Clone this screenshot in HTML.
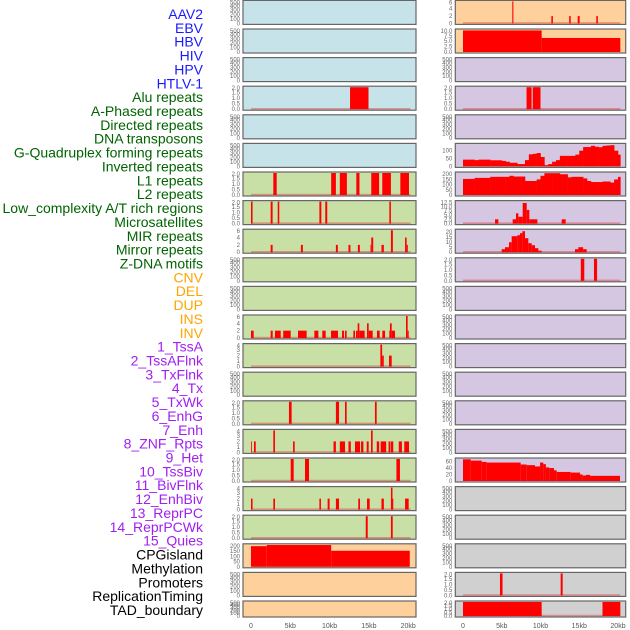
<!DOCTYPE html>
<html><head><meta charset="utf-8"><style>
html,body{margin:0;padding:0;background:#fff;}
svg{display:block;font-family:"Liberation Sans",sans-serif;}
</style></head><body>
<svg id="chart" width="630" height="630" viewBox="0 0 630 630" xmlns="http://www.w3.org/2000/svg"></svg>
<script>
const trackLabels = ["AAV2","EBV","HBV","HIV","HPV","HTLV-1","Alu repeats","A-Phased repeats","Directed repeats","DNA transposons","G-Quadruplex forming repeats","Inverted repeats","L1 repeats","L2 repeats","Low_complexity A/T rich regions","Microsatellites","MIR repeats","Mirror repeats","Z-DNA motifs","CNV","DEL","DUP","INS","INV","1_TssA","2_TssAFlnk","3_TxFlnk","4_Tx","5_TxWk","6_EnhG","7_Enh","8_ZNF_Rpts","9_Het","10_TssBiv","11_BivFlnk","12_EnhBiv","13_ReprPC","14_ReprPCWk","15_Quies","CPGisland","Methylation","Promoters","ReplicationTiming","TAD_boundary"];
const labelColors = ["#1a1aff","#1a1aff","#1a1aff","#1a1aff","#1a1aff","#1a1aff","#006400","#006400","#006400","#006400","#006400","#006400","#006400","#006400","#006400","#006400","#006400","#006400","#006400","#ffa500","#ffa500","#ffa500","#ffa500","#ffa500","#a020f0","#a020f0","#a020f0","#a020f0","#a020f0","#a020f0","#a020f0","#a020f0","#a020f0","#a020f0","#a020f0","#a020f0","#a020f0","#a020f0","#a020f0","#000","#000","#000","#000","#000"];
const xTicks = [0,5,10,15,20];
const xTickLabels = ["0","5kb","10kb","15kb","20kb"];

// segment data: [startKb, endKb, value]
const segL3 = [[12.6,14.95,2]];
const segL6 = [[2.84,3.27,2],[10.2,10.8,2],[11.3,12.2,2],[13.4,13.8,2],[15.3,16.3,2],[16.7,17.8,2],[19.0,20.1,2]];
const segL7 = [[0.0,0.2,2],[2.5,2.75,2],[3.4,3.6,2],[8.7,8.95,2],[9.45,9.7,2],[17.6,17.8,2]];
const segL8 = [[2.5,2.75,2],[6.35,6.6,2],[10.8,11.05,2],[12.4,12.65,2],[13.6,13.85,2],[15.2,15.3,2],[15.3,15.55,4],[16.6,16.9,2],[17.8,18.05,6],[19.6,19.8,4],[19.8,19.95,2]];
const segL11 = [[0,0.34,2],[2.5,2.76,2],[3.05,3.78,2],[4.1,5.05,2],[5.98,7.08,2],[8.06,8.57,2],[9.07,9.5,2],[10.18,11.07,2],[11.58,11.83,2],[11.96,12.17,2],[13.02,13.23,2],[13.36,13.57,2],[13.57,13.78,4],[13.78,14.46,2],[14.76,14.97,4],[14.97,15.48,2],[16.03,16.37,2],[16.71,17.05,2],[17.6,17.68,2],[17.68,17.9,4],[17.9,18.32,2],[19.72,19.93,6],[19.93,20.06,2]];
const segL12 = [[16.46,16.68,4],[16.68,16.89,2],[17.56,17.9,2]];
const segL14 = [[4.83,5.17,2],[10.8,11.2,2],[11.96,12.17,2],[15.77,15.99,2]];
const segL15 = [[0,0.1,2],[0.38,0.6,2],[2.84,3.05,4],[5.35,5.56,2],[10.5,10.8,2],[11.3,11.96,2],[12.4,12.7,2],[13.23,13.87,2],[14.0,14.3,2],[14.72,14.97,2],[15.27,15.48,4],[16.0,16.3,2],[16.5,17.2,2],[17.5,17.73,2],[17.8,18.1,2],[18.8,19.2,2],[19.5,20.1,2]];
const segL16 = [[5.05,5.43,2],[6.87,7.38,2],[18.5,18.95,2]];
const segL17 = [[0,0.2,2],[2.84,3.05,2],[8.7,8.9,2],[9.75,10.0,2],[10.8,11.2,2],[13.65,13.87,2],[14.76,15.1,2],[16.6,16.9,2],[17.8,18.0,4],[18.0,18.1,2],[19.6,20.06,2]];
const segL18 = [[14.6,14.85,2],[17.8,18.03,2]];
const segL19 = [[0,2.0,197],[2.0,10.2,208],[10.2,20.2,153]];
const segR0 = [[6.36,6.5,6],[11.4,11.6,2],[13.7,13.9,2],[14.8,15.05,2],[17.2,17.4,2]];
const segR1 = [[0,10.15,10],[10.15,20.3,6.5]];
const segR3 = [[8.2,8.85,2],[9.0,10.0,2]];
const segR7 = [[4.13,4.56,2.5],[6.41,6.84,2.5],[6.84,7.14,6],[7.14,7.7,4],[7.7,8.22,12],[8.22,8.56,8],[8.56,9.6,2.5],[12.73,13.25,2.5]];
const segR8 = [[4.99,5.42,3],[5.42,5.94,5],[5.94,6.28,10],[6.28,7.0,16],[7.0,7.35,17],[7.35,7.66,19],[7.66,8.0,21],[8.0,8.43,14],[8.43,8.86,9],[8.86,9.29,7],[9.29,9.72,4],[9.72,10.15,1.5],[14.45,14.88,3],[14.88,15.5,5],[15.5,15.96,3]];
const segR9 = [[15.2,15.65,2],[16.9,17.3,2]];
const segR16 = [[0,1.0,67],[1.0,2.41,63],[2.41,3.05,59],[3.05,7.44,57],[7.44,8.22,51],[8.22,9.29,49],[9.29,9.94,45],[9.94,10.37,57],[10.37,10.7,52],[10.7,11.14,42],[11.14,11.74,40],[11.74,12.09,33],[12.09,13.9,28],[13.9,15.1,26],[15.1,15.44,20],[15.44,15.87,17],[15.87,16.39,19],[16.39,20.26,16]];
const segR20 = [[4.77,5.1,2],[12.6,12.86,2]];
const segR21 = [[0,10.15,2],[18.0,20.3,2]];
// binned profiles (0.5kb bins from 0)
const profR5 = [43,43,43,40,43,43,43,39,39,39,35,30,23,23,15,15,40,77,80,85,60,8,15,30,40,67,67,67,67,75,100,123,123,131,125,122,131,133,135,100,75];
const profR6 = [155,155,155,165,165,165,165,175,175,175,175,175,185,178,178,178,135,135,135,150,185,210,210,210,210,200,200,170,175,175,175,160,135,125,125,125,130,130,120,150,175];

const T500=[0,100,200,300,400,500], T2=[0,0.5,1,1.5,2], T6=[0,2,4,6], T4=[0,1,2,3,4], T200=[0,50,100,150,200], T10=[0,2.5,5,7.5,10], T12=[0,2.5,5,7.5,10,12.5], T20=[0,5,10,15,20], T60=[0,20,40,60], T100=[0,50,100];
const BL="#c6e3ea", GR="#c8e0a6", OR="#fdd09c", PU="#d5c6e2", GY="#d0d0d0";
// panel configs: [col,row,bg,ticks,max,segments,profile,decimals,baseline]
const panels = [
 [0,0,BL,T500,500,null,null,0,0],[0,1,BL,T500,500,null,null,0,0],[0,2,BL,T500,500,null,null,0,0],
 [0,3,BL,T2,2,segL3,null,1,1],[0,4,BL,T500,500,null,null,0,0],[0,5,BL,T500,500,null,null,0,0],
 [0,6,GR,T2,2,segL6,null,1,1],[0,7,GR,T2,2,segL7,null,1,1],[0,8,GR,T6,6,segL8,null,0,1],
 [0,9,GR,T500,500,null,null,0,0],[0,10,GR,T500,500,null,null,0,0],[0,11,GR,T6,6,segL11,null,0,1],
 [0,12,GR,T4,4,segL12,null,0,1],[0,13,GR,T500,500,null,null,0,0],[0,14,GR,T2,2,segL14,null,1,1],
 [0,15,GR,T4,4,segL15,null,0,1],[0,16,GR,T2,2,segL16,null,1,1],[0,17,GR,T4,4,segL17,null,0,1],
 [0,18,GR,T2,2,segL18,null,1,1],[0,19,OR,T200,210,segL19,null,0,0],[0,20,OR,T500,500,null,null,0,0],
 [0,21,OR,T500,500,null,null,0,0],
 [1,0,OR,T6,6,segR0,null,0,1],[1,1,OR,T10,10.2,segR1,null,1,0],[1,2,PU,T500,500,null,null,0,0],
 [1,3,PU,T2,2,segR3,null,1,1],[1,4,PU,T500,500,null,null,0,0],[1,5,PU,T100,140,null,profR5,0,0],
 [1,6,PU,T200,212,null,profR6,0,0],[1,7,PU,T12,12.8,segR7,null,1,1],[1,8,PU,T20,22,segR8,null,0,1],
 [1,9,PU,T2,2,segR9,null,1,1],[1,10,PU,T500,500,null,null,0,0],[1,11,PU,T500,500,null,null,0,0],
 [1,12,PU,T500,500,null,null,0,0],[1,13,PU,T500,500,null,null,0,0],[1,14,PU,T500,500,null,null,0,0],
 [1,15,PU,T500,500,null,null,0,0],[1,16,PU,T60,68,segR16,null,0,0],[1,17,GY,T500,500,null,null,0,0],
 [1,18,GY,T500,500,null,null,0,0],[1,19,GY,T500,500,null,null,0,0],[1,20,GY,T2,2,segR20,null,1,1],
 [1,21,GY,T2,2,segR21,null,1,1]
];

const NS="http://www.w3.org/2000/svg";
const svg=document.getElementById('chart');
function mk(tag,attrs,parent){const e=document.createElementNS(NS,tag);for(const k in attrs)e.setAttribute(k,attrs[k]);(parent||svg).appendChild(e);return e;}
const colX=[[243,416],[455.3,625.7]];
const colX0=[251,463], colScale=[7.86,7.75];
function xPos(col,kb){return colX0[col]+kb*colScale[col];}
function rowTop(r){return 0.4+r*28.6;}
function rowH(r){return r===21?16:24;}

// labels
trackLabels.forEach((t,i)=>{
  const e=mk('text',{x:203,y:19+i*13.86,'text-anchor':'end','font-size':14,fill:labelColors[i]});
  e.textContent=t;
  
  
});

panels.forEach((p,idx)=>{
  const [col,row,bg,ticks,max,segs,prof,dec,base]=p;
  const x0=colX[col][0], x1=colX[col][1], top=rowTop(row), h=rowH(row), bot=top+h;
  const g=mk('g',{});
  
  
  mk('rect',{x:x0,y:top,width:x1-x0,height:h,fill:bg,stroke:'#666',"stroke-width":1.2},g);
  const y=v=>(bot-1)-v/max*(h-2);
  if(base){
    const bl=mk('rect',{x:xPos(col,0),y:bot-2.2,width:xPos(col,20.3)-xPos(col,0),height:1.6,fill:'rgba(220,60,60,0.45)'},g);
    
    
  }
  if(segs) segs.forEach(s=>{
    const b=mk('rect',{x:xPos(col,s[0]),y:y(s[2]),width:Math.max(0.8,xPos(col,s[1])-xPos(col,s[0])),height:(bot-1)-y(s[2]),fill:'#ff0000'},g);
    
    
  });
  if(prof) prof.forEach((v,i)=>{
    const s=i*0.5, e=Math.min(20.3,s+0.5);
    const b=mk('rect',{x:xPos(col,s),y:y(v),width:xPos(col,e)-xPos(col,s)+0.3,height:(bot-1)-y(v),fill:'#ff0000'},g);
    
    
  });
  ticks.forEach(t=>{
    const tx=mk('text',{x:x0-3,y:Math.max(top+2,y(t))+2,'text-anchor':'end','font-size':6,fill:'#666'},g);
    tx.textContent=dec?t.toFixed(1):String(t);
    
    
  });
});

[0,1].forEach(col=>{
  xTicks.forEach((t,i)=>{
    const tx=mk('text',{x:xPos(col,t),y:628,'text-anchor':'middle','font-size':7,fill:'#555'});
    tx.textContent=xTickLabels[i];
    
    
  });
});
</script>
</body></html>
